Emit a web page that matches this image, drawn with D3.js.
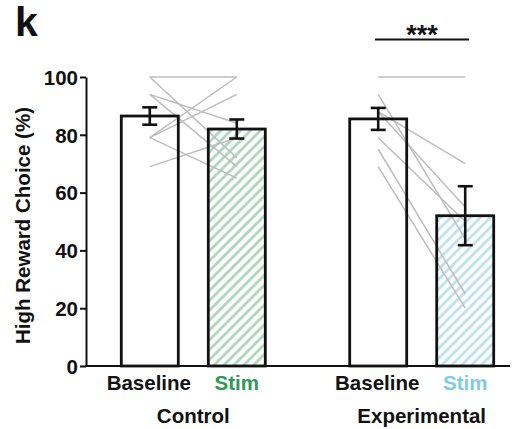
<!DOCTYPE html>
<html>
<head>
<meta charset="utf-8">
<script src="https://cdn.jsdelivr.net/npm/d3@7"></script>
<style>
  html, body { margin: 0; padding: 0; background: #fff; }
  svg text { font-family: "Liberation Sans", Arial, sans-serif; font-weight: bold; }
</style>
</head>
<body>
<div id="chart"></div>
<script>
const groups = ['Control', 'Experimental'];
const conditions = ['Baseline', 'Stim'];
const means = [[86.5, 82], [85.5, 52]];
const sems = [[3, 3.3], [3.8, 10.2]];
const yTicks = [0, 20, 40, 60, 80, 100];

// individual subjects: [baseline, stim]
const controlPairs = [[100, 100], [100, 72], [94, 84], [94, 69], [79, 100], [79, 94], [79, 65], [69, 79]];
const expPairs = [[100, 100], [94, 44], [88, 70], [88, 55], [79, 50], [75, 25], [69, 20]];
const subjects = [controlPairs, expPairs];

const stimColors = ['#2e9a52', '#7fcbe6'];
const hatchColors = ['#a9d3b8', '#b8e0ee'];

const W = 518, H = 429;
const FS = 20.5;
const svg = d3.select('#chart').append('svg')
  .attr('width', W).attr('height', H);

const y = d3.scaleLinear().domain([0, 100]).range([366, 77]);
const xGroup = d3.scalePoint().domain(groups).range([193.3, 421.7]);
const xInner = d3.scaleBand().domain(conditions).range([-72, 72]).paddingInner(0.345);
const bw = xInner.bandwidth();
const cx = (g, c) => xGroup(g) + xInner(c) + bw / 2;

// hatch patterns
const defs = svg.append('defs');
hatchColors.forEach((col, i) => {
  const p = defs.append('pattern')
    .attr('id', `hatch${i}`)
    .attr('patternUnits', 'userSpaceOnUse')
    .attr('width', 7).attr('height', 7)
    .attr('patternTransform', 'rotate(-45)');
  p.append('line')
    .attr('x1', 0).attr('y1', 3.5).attr('x2', 7).attr('y2', 3.5)
    .attr('stroke', col).attr('stroke-width', 2.6);
});

const bars = [];
groups.forEach((g, gi) => conditions.forEach((c, ci) => {
  bars.push({ g, gi, c, ci, mean: means[gi][ci], sem: sems[gi][ci] });
}));

// bar fills
svg.append('g').selectAll('rect').data(bars).join('rect')
  .attr('x', d => xGroup(d.g) + xInner(d.c))
  .attr('y', d => y(d.mean))
  .attr('width', bw)
  .attr('height', d => y(0) - y(d.mean))
  .attr('fill', d => d.ci === 1 ? `url(#hatch${d.gi})` : '#fff');

// subject lines
subjects.forEach((pairs, gi) => {
  svg.append('g').selectAll('line').data(pairs).join('line')
    .attr('x1', cx(groups[gi], 'Baseline'))
    .attr('x2', cx(groups[gi], 'Stim'))
    .attr('y1', d => y(d[0]))
    .attr('y2', d => y(d[1]))
    .attr('stroke', '#bdbdbd')
    .attr('stroke-width', 1.5);
});

// bar outlines
svg.append('g').selectAll('rect').data(bars).join('rect')
  .attr('x', d => xGroup(d.g) + xInner(d.c))
  .attr('y', d => y(d.mean))
  .attr('width', bw)
  .attr('height', d => y(0) - y(d.mean))
  .attr('fill', 'none')
  .attr('stroke', '#111')
  .attr('stroke-width', 2.8);

// error bars
const eb = svg.append('g').attr('stroke', '#111').attr('stroke-width', 2.6);
bars.forEach(d => {
  const x0 = cx(d.g, d.c);
  eb.append('line').attr('x1', x0).attr('x2', x0)
    .attr('y1', y(d.mean + d.sem)).attr('y2', y(d.mean - d.sem));
  [d.mean + d.sem, d.mean - d.sem].forEach(v => {
    eb.append('line').attr('x1', x0 - 7.5).attr('x2', x0 + 7.5)
      .attr('y1', y(v)).attr('y2', y(v));
  });
});

// y axis
const yAxis = svg.append('g')
  .attr('transform', 'translate(86,0)')
  .call(d3.axisLeft(y).tickValues(yTicks).tickSize(6).tickSizeOuter(0).tickPadding(2));
yAxis.select('.domain').attr('stroke', '#111').attr('stroke-width', 2);
yAxis.selectAll('.tick line').attr('stroke', '#111').attr('stroke-width', 2);
yAxis.selectAll('.tick text').attr('font-size', FS).attr('fill', '#111')
  .attr('dy', '0.36em')
  .style('font-family', '"Liberation Sans", Arial, sans-serif').style('font-weight', 'bold');

// x baseline
svg.append('line')
  .attr('x1', 85).attr('x2', 510)
  .attr('y1', y(0)).attr('y2', y(0))
  .attr('stroke', '#111').attr('stroke-width', 2);

// condition labels
svg.append('g').selectAll('text').data(bars).join('text')
  .attr('x', d => cx(d.g, d.c) - (d.ci === 0 ? 1 : 0))
  .attr('y', 390)
  .attr('text-anchor', 'middle')
  .attr('font-size', FS)
  .attr('fill', d => d.ci === 1 ? stimColors[d.gi] : '#111')
  .text(d => d.c);

// group labels
svg.append('g').selectAll('text').data(groups).join('text')
  .attr('x', d => xGroup(d))
  .attr('y', 423)
  .attr('text-anchor', 'middle')
  .attr('font-size', FS)
  .attr('fill', '#111')
  .text(d => d);

// y label
svg.append('text')
  .attr('transform', `translate(30,${(y(0) + y(100)) / 2 + 4}) rotate(-90)`)
  .attr('text-anchor', 'middle')
  .attr('font-size', FS)
  .attr('fill', '#111')
  .text('High Reward Choice (%)');

// panel letter
svg.append('text')
  .attr('x', 15).attr('y', 36)
  .attr('font-size', 41)
  .attr('fill', '#111')
  .text('k');

// significance
svg.append('line')
  .attr('x1', 375).attr('x2', 469)
  .attr('y1', 39.5).attr('y2', 39.5)
  .attr('stroke', '#111').attr('stroke-width', 2);
svg.append('text')
  .attr('x', 422).attr('y', 44)
  .attr('text-anchor', 'middle')
  .attr('font-size', 27)
  .attr('fill', '#111')
  .text('***');
</script>
</body>
</html>
